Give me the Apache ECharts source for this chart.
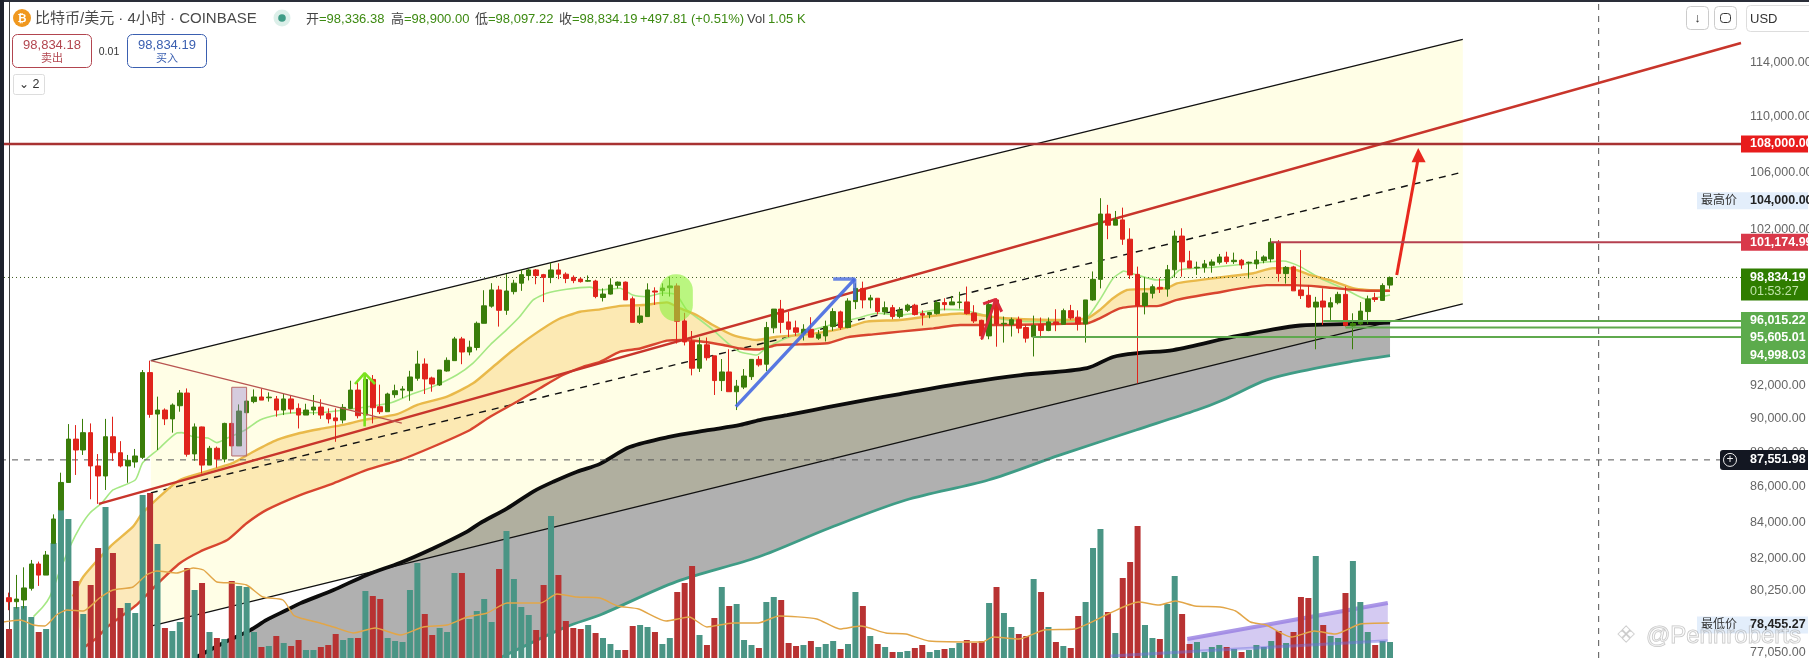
<!DOCTYPE html>
<html><head><meta charset="utf-8">
<style>html,body{margin:0;padding:0;background:#fff}#c{width:1809px;height:658px}</style>
<script src="https://cdn.jsdelivr.net/npm/echarts@6/dist/echarts.min.js"></script>
</head><body><div id="c"></div>
<script>
// ---------- data: [open, close, low, high], one row per 4h bar ----------
const candles = [
[79890,79680,79230,80160],[79680,79820,79320,81110],[79770,80410,79320,81520],[80390,81700,80270,81920],[81700,81100,80520,81830],
[81100,82190,81100,82410],[82830,84180,82830,84440],[84690,86250,84690,86810],[86250,88770,86250,89660],[88770,88130,86680,89600],
[88130,89150,87840,89970],[89150,87200,85290,89700],[87200,86620,85030,87890],[86620,88910,85820,89970],[88910,87970,87490,90100],
[87970,87200,87120,88650],[87200,87530,86230,87840],[87430,87780,87100,88190],[87700,92780,87600,92940],[92780,90240,90040,93520],
[90260,90500,88130,91310],[90500,89970,89600,90600],[89970,90800,89150,90900],[90760,91530,90400,91710],[91530,87880,87740,91810],
[87900,89490,87500,89700],[89490,87250,86770,89510],[87250,88230,87250,88370],[88230,87600,87100,88330],[87600,89700,87410,89740],
[89700,88370,88370,89740],[88370,90440,88370,90840],[90340,91040,90340,91100],[91010,91290,90910,91750],[91290,91100,91100,91810],
[91240,91280,91010,91570],[91170,90500,90100,91350],[90500,91170,90200,91470],[91170,90560,90300,91350],[90600,90200,89400,90900],
[90200,90500,90200,90880],[90500,90680,90200,91410],[90680,90200,89970,91150],[90280,89970,89700,90600],[90030,89860,88610,90600],
[89900,90660,89700,90860],[90600,91710,90560,92280],[91710,90160,90000,92280],[90200,92360,90000,92750],[92360,90640,89700,92630],
[90700,90400,90260,92040],[90400,91470,90400,91550],[91430,91670,91240,92040],[91710,91770,91220,91950],[91670,92510,91060,92890],
[92430,93310,92280,94140],[93310,92390,91470,93660],[92450,92080,91610,92530],[92020,92940,91960,92940],[92880,93540,92840,93720],
[93520,94880,93520,95010],[94880,94060,93300,95010],[94060,94360,93850,94770],[94340,95870,94160,95980],[95870,96990,95870,98000],
[96970,98020,96870,98460],[98020,96700,95660,98290],[96700,97950,96410,99050],[97910,98460,97730,98680],[98460,99020,97960,99370],
[98960,99330,98640,99440],[99330,98960,98390,99390],[99020,98840,97230,99070],[98840,99330,98460,99810],[99330,99050,98720,99770],
[99050,98770,98460,99170],[98840,98630,98460,98970],[98730,98560,98500,98840],[98590,98630,98550,98970],[98600,97590,97480,98680],
[97530,97750,97270,98120],[97750,98340,97720,98780],[98320,98530,98120,98570],[98530,97370,97370,98570],[97440,95930,95930,97590],
[95930,96340,95830,96900],[96300,98020,96300,98450],[97950,97880,97050,98190],[97970,98140,97630,98450],[98160,98280,97590,98890],
[98280,96000,94590,98450],[96020,94690,94470,96540],[94730,93050,92610,95380],[93050,94510,92820,94970],[94510,93700,93530,94970],
[93820,92290,91410,93820],[92290,92820,91650,93620],[92820,91610,91610,94230],[91610,91950,90500,92330],[91890,92570,91770,93000],
[92530,93600,92330,93620],[93600,93260,93150,93800],[93300,95600,92880,95960],[95580,96780,95240,96780],[96780,95930,95240,97370],
[95960,95490,94990,96620],[95580,95300,95070,96040],[95240,95490,94780,95810],[95490,94990,94990,96260],[94930,95180,94820,95450],
[95070,95660,94720,96040],[95660,96620,95390,96830],[96600,95600,95450,96680],[95600,97300,95560,97480],[97260,98120,96780,98450],
[98120,97370,96830,98560],[97370,97500,96830,97700],[97480,96620,96430,97480],[96600,96870,96430,97270],[96870,96300,96130,97050],
[96300,96700,96190,96900],[96700,97030,96600,97120],[97030,96430,96370,97120],[96490,96390,95730,96700],[96430,96560,96190,96600],
[96490,97200,96430,97370],[97200,97070,96700,97480],[97050,97240,97050,97630],[97200,97240,96810,97900],[97240,96490,96430,98240],
[96530,96020,95890,97030],[96060,95070,94820,96100],[95070,97070,94860,97370],[97370,95830,94390,97480],[95830,95870,94650,96300],
[95790,96100,95030,96240],[96100,95560,95240,96300],[95600,94930,94650,95770],[95010,95730,93780,96360],[95790,95410,94930,96240],
[95410,95960,95370,96240],[95960,95810,95370,96770],[95810,96680,95790,96810],[96680,96210,96100,97050],[96260,95830,95410,96700],
[95830,97370,94650,97370],[97370,98710,97320,99230],[98710,103090,98120,104180],[103090,102330,101380,103720],[102330,102710,102330,103300],
[102690,101380,101000,103530],[101380,99000,98740,102120],[99040,97000,92120,99550],[97010,97820,96440,98850],[97800,98230,97470,98380],
[98190,98080,97820,98780],[98080,99340,97580,99660],[99340,101590,98830,101960],[101590,99870,98890,102120],[99930,99460,99460,100600],
[99460,99510,99000,99880],[99500,99730,99150,99990],[99640,99860,99150,100030],[99840,100190,99700,100390],[100190,99880,99730,100540],
[99880,99970,99730,100480],[99970,99660,99400,100060],[99790,99840,98770,99880],[99730,99990,99400,100590],[99950,100190,99770,100300],
[100060,101170,99840,101450],[101170,99090,98560,101320],[99090,99500,98430,99590],[99530,97960,97960,99600],[98020,97650,97430,100650],
[97670,96910,96870,98320],[96910,97230,94230,97570],[97300,96910,95760,98120],[96910,97190,96000,97540],[97190,97730,97080,97900],
[97730,95740,95660,98250],[95700,95860,94230,96510],[95830,96650,95760,97230],[96620,97430,95830,97650],[97510,97400,97240,97840],
[97340,98310,97320,98450],[98336.38,98834.19,98097.22,98900]
];
const volumes = [
29,51,52,41,26,29,115,148,139,77,44,73,110,151,105,50,55,45,163,165,114,30,27,36,90,68,75,26,20,19,77,72,71,26,11,12,22,15,12,18,
8,8,11,13,24,18,20,20,67,62,59,20,17,16,68,95,44,23,30,26,85,85,39,47,59,36,89,127,79,51,43,28,73,142,83,37,30,29,33,25,
20,14,8,8,32,33,31,26,14,20,66,75,92,23,13,40,71,52,54,18,13,10,56,61,58,15,12,13,17,11,14,17,9,14,66,52,22,14,11,6,
6,7,10,13,6,8,9,10,15,18,15,17,55,71,45,31,24,22,79,66,31,16,12,10,42,56,110,129,46,25,80,96,132,33,20,19,54,82,44,14,
16,6,11,13,11,9,6,8,13,11,17,27,15,26,61,60,102,33,22,20,65,97,56,26,13,17,16
];
const volumeMA = [[-0.8,36],[1.5,38],[3.3,33],[4.8,32],[6.4,43],[7.8,48],[10,47],[12.2,60],[14,68],[16.7,71],[18.5,83],[19.9,87],[22.6,85],[24.8,90],[26.2,88],[28,76],[30.2,75],[32,73],[34.2,61],[36.9,58],[38.3,43],[39.2,40],[41.9,35],[43.7,31],[46.4,25],[49.3,30],[52.7,23],[55.8,31],[59,33],[61.7,41],[64.4,45],[67.1,55],[71.6,55],[73.8,64],[76.5,61],[79.6,60],[82,52],[84.8,49],[88.5,37],[91.6,41],[94,31],[97.5,35],[100.9,35],[103.7,42],[108.8,39],[111.9,29],[114.7,32],[118.1,25],[120.8,24],[123.9,17],[131.1,16],[132.5,21],[136,19],[139.4,28],[143.5,29],[148.3,45],[152.1,56],[154.9,53],[157.1,57],[159.7,52],[163.1,51],[165.2,47],[167.2,36],[169.3,33],[172.7,21],[175.8,27],[178.6,24],[182,34],[185.9,35]];
const maFast = [[3.3,78890],[4.6,79420],[5.5,79950],[6.9,81380],[8.2,82640],[9.6,83750],[10.9,84520],[12.5,85080],[14,85820],[17,86390],[18,87380],[20,88130],[22.6,89130],[23.3,89150],[24.8,88910],[26.8,88830],[28,88560],[29.4,88830],[31.8,89310],[33.8,89900],[36.1,90200],[38.2,90330],[41.9,90350],[51.3,90930],[54,91410],[57.1,91920],[60.3,92630],[62.5,93370],[64.8,94500],[67,95450],[68.8,96300],[70.6,97370],[72.4,97800],[75.1,98060],[78.2,98200],[79.6,98020],[82.3,98130],[84,97690],[85.9,97580],[88.1,97820],[89.9,97690],[91.3,96720],[93.1,96080],[94.8,95450],[97.1,94500],[98.4,94080],[100.7,93870],[102,94310],[104.7,94940],[107.4,95340],[110.6,95760],[114.2,96190],[116.9,96510],[120,96400],[125.8,96760],[128.5,96720],[130.8,96470],[133.5,96150],[137.9,95980],[142.4,95980],[145.1,96190],[146.9,97370],[148.7,98780],[149.9,99210],[150.1,99260],[151.9,99000],[154.6,98670],[156.4,98780],[157.7,99330],[162.2,99510],[167.6,99770],[171.6,99920],[173.9,99550],[176.6,98780],[180.1,98030],[182.8,97430],[186,97690]];
const maMid = [[8.6,79950],[10,81010],[13.6,82640],[16.7,83750],[18,84520],[21.3,85820],[23,86390],[25.7,86770],[30.2,87380],[32.9,88030],[36.1,88720],[39.2,89130],[41.9,89370],[45,89610],[47.7,89900],[52.3,90260],[55,90810],[59,91310],[62.5,92120],[65.2,93140],[67.9,94180],[70.6,95120],[73.8,96080],[76.9,96610],[79.6,96760],[82.3,96990],[85.4,97040],[88.6,97210],[90.4,96820],[92.6,96400],[94.8,95760],[97.5,95120],[100.7,94810],[103.4,95020],[106.5,95120],[110.1,95340],[112.9,95610],[115.5,95980],[120,96080],[124.5,96350],[128.1,96500],[130.8,96400],[133.5,96220],[136.6,96130],[141.1,96080],[145.2,96190],[146.9,96720],[148.7,97480],[150.6,98020],[151.9,98060],[155.9,98130],[157.3,98450],[162.2,98780],[167.6,99110],[170.2,99440],[172.5,99440],[175.2,99000],[178.3,98600],[181,98130],[182.9,98020],[186,97970]];
const maSlow = [[10,77260],[11.8,77780],[13.3,78370],[16.3,79240],[17.4,79590],[20.3,80750],[23,81740],[25.7,82370],[29.4,83015],[32,83940],[34.7,84690],[39.2,85530],[43.7,86200],[48.2,86970],[52.7,87550],[57.1,88320],[62.1,89310],[64.8,90100],[68.4,91000],[71.5,91820],[74.6,92630],[77.3,93140],[79.6,93450],[82.3,94080],[85,94280],[88.6,94770],[90.8,94810],[93.5,94700],[96.2,94500],[98.5,94280],[101.1,94220],[103.4,94500],[106.5,94540],[110.2,94610],[112.9,94980],[116.4,95170],[120,95340],[124.5,95550],[128.1,95760],[133.5,95760],[141.1,95830],[145.2,95870],[146.9,96190],[149.6,96820],[151.9,96970],[154.6,96970],[157.3,97370],[162.2,97800],[169.4,98330],[172.9,98330],[176.6,98230],[180.2,98060],[182.9,97970],[186,97970]];
const maBlack = [[25,76753],[29.2,77590],[32.5,78190],[34.7,78720],[37.4,79240],[39.2,79590],[43.7,80300],[48.2,81110],[52.7,81770],[57.1,82550],[61.7,83480],[63.4,83940],[67.1,84780],[70.6,85730],[73.3,86290],[76.5,86870],[79.6,87320],[83.6,88300],[88.9,88900],[94.4,89310],[98.5,89610],[101.1,89900],[104.8,90200],[108.3,90500],[111.9,90810],[115.5,91107],[120,91470],[129,92160],[136.3,92630],[145.2,93060],[148.7,93750],[152.3,94000],[156.8,94180],[164.9,95020],[169.4,95410],[173.9,95730],[180.6,95830],[186,95920]];
const maTeal = [[66.1,76753],[75.1,78370],[79.6,78980],[89.9,80750],[100.9,82080],[110.5,83680],[120.8,85250],[131.9,86390],[141.5,87830],[151.8,89310],[160,90500],[163.5,91107],[169.4,92330],[174.8,92940],[180.6,93450],[186,93830]];
const channelUpper = [[19.1,93520],[195.8,115780]];
const channelLower = [[19.1,78400],[195.8,97110]];
const channelMid = [[19.1,85650],[195.3,105940]];
const redTrend = [[12.1,85030],[233.27,115500]];
const fallLine = [[19.1,93520],[52.9,89720]];
const blueArrow = [[97.9,90710],[113.9,98730]];
const blueHead = [[111,98730],[113.9,98730],[113.9,97366]];
const greenArrow = [[47.9,89520],[47.9,92630]];
const greenHead = [[46.6,92080],[47.9,92750],[49.3,92080]];
const redSmallArrow = [[131,94860],[132.9,97410]];
const redSmallHead = [[131.2,97110],[132.9,97410],[133.7,96610]];
const redBigArrow = [[186.9,99000],[189.8,107000]];
const redBigHead = [[188.9,106700],[189.8,107710],[190.8,106700]];
const pinkBox = [[30,91880],[32,91880],[32,87780],[30,87780]];
const highlight = [87.6,92.1,96000,99050];
const purpleTop = [[158.7,77730],[185.7,79610]];
const purpleLow = [[148.3,76860],[185.7,77640]];
const purpleFill = [[158.7,77730],[185.7,79610],[185.7,77640],[158.7,77070]];
const resistance = 108000, redLevel = 101174.99, lastPrice = 98834.19, crossPrice = 87551.98;
const greenLevels = [[96015.22,177],[95605.01,180],[94998.03,137.9]];
const tickValues = [114000,110000,106000,102000,92000,90000,88000,86000,84000,82000,80250,77050];
const crossX = 214.1;

// ---------- axes ----------
const xMin = -1.212, xMax = 233.27, yMin = 76753, yMax = 118845;
const fmt = v => v.toLocaleString('en-US',{minimumFractionDigits:2,maximumFractionDigits:2});
const FONT = '"Liberation Sans","Noto Sans CJK SC",sans-serif';
const UP = '#3a7d0a', DOWN = '#e0241c', VUP = '#4a9585', VDOWN = '#b83232';

const line = (data,color,width,z,extra={}) => Object.assign({type:'line',data,symbol:'none',silent:true,animation:false,z,xAxisIndex:0,yAxisIndex:0,
  lineStyle:Object.assign({color,width},extra.ls||{})}, extra.s||{});
const poly = (points,fill,z,stroke,lw) => ({type:'custom',z,silent:true,animation:false,xAxisIndex:0,yAxisIndex:0,clip:true,data:[[points[0][0],points[0][1]]],
  renderItem:(p,api)=>({type:'polygon',shape:{points:points.map(q=>api.coord(q))},style:{fill,stroke:stroke||null,lineWidth:lw||0}})});
const band = (a,b) => a.concat(b.slice().reverse());
const hl = (v,x0,color,w,type) => line([[x0,v],[xMax,v]],color,w,type?6:10,{ls:type?{type}:{}});

const series = [
  poly(band(channelUpper,channelLower),'#fffee6',1),
  poly(band(maMid,maSlow),'rgba(250,222,155,0.68)',2),
  poly(band(maBlack,maTeal),'rgba(0,0,0,0.31)',3),
  line(channelUpper,'#111',1.3,4),
  line(channelLower,'#111',1.3,4),
  line(channelMid,'#111',1.4,4,{ls:{type:[7,6]}}),
  line(maFast,'#a5e884',1.6,4,{s:{smooth:0.2}}),
  line(maMid,'#e9b94a',2.4,4,{s:{smooth:0.2}}),
  line(maSlow,'#d8452f',2.4,4,{s:{smooth:0.2}}),
  line(maBlack,'#0c0c0c',3.8,4,{s:{smooth:0.3}}),
  line(maTeal,'#3f9c86',2.8,4,{s:{smooth:0.3}}),
  poly(purpleFill,'rgba(170,150,230,0.5)',4),
  line(purpleTop,'rgba(150,125,225,0.8)',4,4),
  {type:'bar',xAxisIndex:0,yAxisIndex:1,z:5,silent:true,animation:false,barWidth:6,
   data:volumes.map((h,i)=>({value:[i,h],itemStyle:{color:candles[i][1]>=candles[i][0]?VUP:VDOWN}}))},
  line(purpleLow,'rgba(110,110,225,0.45)',3,6),
  line(volumeMA,'#e2a648',1.4,7,{s:{yAxisIndex:1,smooth:0.2}}),
  line(redTrend,'#c8352b',2.5,7),
  {type:'candlestick',xAxisIndex:0,yAxisIndex:0,z:8,silent:true,animation:false,barWidth:5,
   data:candles.map((c,i)=>[i,c[0],c[1],c[2],c[3]]),
   itemStyle:{color:UP,color0:DOWN,borderColor:UP,borderColor0:DOWN,borderWidth:1}},
  line(fallLine,'#b85450',1.2,9),
  poly(pinkBox,'rgba(150,130,210,0.4)',9,'#b86a6a',1),
  {type:'custom',z:9,silent:true,animation:false,xAxisIndex:0,yAxisIndex:0,data:[[highlight[0],highlight[2]]],
   renderItem:(p,api)=>{const a=api.coord([highlight[0],highlight[3]]),b=api.coord([highlight[1],highlight[2]]);
     return {type:'rect',shape:{x:a[0],y:a[1],width:b[0]-a[0],height:b[1]-a[1],r:16},style:{fill:'rgba(140,240,60,0.6)'}};}},
  line(blueArrow,'rgba(70,105,225,0.9)',3.4,9),
  line(blueHead,'rgba(70,105,225,0.8)',3.4,9),
  line(greenArrow,'#7be21e',2.6,9),
  line(greenHead,'#7be21e',2.6,9),
  line(redSmallArrow,'#d92a3c',3,9),
  line(redSmallHead,'#d92a3c',3,9),
  line(redBigArrow,'#e8281e',3,9),
  poly(redBigHead,'#e8281e',9),
  hl(resistance,xMin,'#a83232',2.5),
  hl(redLevel,170,'#b5404f',2),
  ...greenLevels.map(g=>hl(g[0],g[1],'#5fa94e',2)),
  hl(lastPrice,xMin,'#3f5a20',1,[1,3]),
  hl(crossPrice,xMin,'#555',1,[6,6]),
  line([[crossX,yMin],[crossX,yMax]],'#555',1,6,{ls:{type:[6,6]}}),
  // right-hand price scale: tick labels placed through the value axis
  {type:'custom',z:12,silent:true,animation:false,clip:false,xAxisIndex:0,yAxisIndex:0,data:tickValues.map(v=>[xMax,v]),
   renderItem:(p,api)=>{const c=api.coord([xMax,api.value(1)]);
     return {type:'text',x:c[0]+9,y:c[1],style:{text:fmt(api.value(1)),fill:'#666',font:'12.5px '+FONT,textAlign:'left',textVerticalAlign:'middle'}};}},
];
const tags = [
  {v:108000,bg:'#e81c1c',fg:'#fff',txt:'108,000.00',dy:0,h:17},
  {v:101174.99,bg:'#d9394a',fg:'#fff',txt:'101,174.99',dy:0,h:17},
  {v:104000,bg:'#e3eefb',fg:'#222',txt:'104,000.00',dy:0,h:17,note:'最高价'},
  {v:78455.27,bg:'#e3eefb',fg:'#222',txt:'78,455.27',dy:0,h:17,note:'最低价'},
  {v:98834.19,bg:'#2f7d00',fg:'#fff',txt:'98,834.19',sub:'01:53:27',dy:7,h:32},
  {v:96015.22,bg:'#5cab4c',fg:'#fff',txt:'96,015.22',dy:0,h:18},
  {v:95605.01,bg:'#5cab4c',fg:'#fff',txt:'95,605.01',dy:10.5,h:18},
  {v:94998.03,bg:'#5cab4c',fg:'#fff',txt:'94,998.03',dy:18,h:18},
  {v:87551.98,bg:'#131722',fg:'#fff',txt:'87,551.98',dy:0,h:20,plus:true}
];
tags.forEach((t,k)=>series.push({type:'custom',z:13,silent:true,animation:false,clip:false,xAxisIndex:0,yAxisIndex:0,data:[[xMax,t.v]],
  renderItem:(p,api)=>{const c=api.coord([xMax,t.v]);const x=c[0],y=c[1]+t.dy;const kids=[];
    const rx=t.plus?x-21:x;
    kids.push({type:'rect',shape:{x:rx,y:y-t.h/2,width:1808-rx,height:t.h,r:t.plus?[3,0,0,3]:0},style:{fill:t.bg}});
    if(t.note){kids.push({type:'rect',shape:{x:x-44,y:y-t.h/2,width:44,height:t.h},style:{fill:t.bg}});
      kids.push({type:'text',x:x-22,y:y,style:{text:t.note,fill:'#333',font:'12px '+FONT,textAlign:'center',textVerticalAlign:'middle'}});}
    if(t.plus){kids.push({type:'circle',shape:{cx:x-11,cy:y,r:6.5},style:{fill:'none',stroke:'#eee',lineWidth:1}});
      kids.push({type:'text',x:x-11,y:y,style:{text:'+',fill:'#eee',font:'12px '+FONT,textAlign:'center',textVerticalAlign:'middle'}});}
    kids.push({type:'text',x:x+9,y:t.sub?y-6.5:y,style:{text:t.txt,fill:t.fg,font:'bold 12.5px '+FONT,textAlign:'left',textVerticalAlign:'middle'}});
    if(t.sub)kids.push({type:'text',x:x+9,y:y+7,style:{text:t.sub,fill:'#bfe3a8',font:'12.5px '+FONT,textAlign:'left',textVerticalAlign:'middle'}});
    return {type:'group',children:kids};}}));

// ---------- window furniture ----------
const T=(x,y,text,font,fill,align)=>({type:'text',z:30,x,y,style:{text,font:font+' '+FONT,fill,textAlign:align||'left',textVerticalAlign:'middle'}});
const R=(x,y,w,h,stroke,fill,r)=>({type:'rect',z:29,shape:{x,y,width:w,height:h,r:r||0},style:{stroke:stroke||null,fill:fill||'none',lineWidth:1}});
const G='#3d8a12';
const chrome = [
  R(0,0,1809,2,null,'#2a2e39'),R(0,0,4,658,null,'#1e222d'),
  {type:'circle',z:30,shape:{cx:22,cy:18,r:9},style:{fill:'#f0981f'}},
  T(22,18.5,'₿','bold 11px','#fff','center'),
  T(35,19,'比特币/美元 · 4小时 · COINBASE','15px','#4a4a4a'),
  {type:'circle',z:30,shape:{cx:282,cy:18,r:8.5},style:{fill:'#dcefe9'}},
  {type:'circle',z:30,shape:{cx:282,cy:18,r:3.8},style:{fill:'#3f9c86'}},
  T(306,19,'开','13px','#444'),T(319,19,'=98,336.38','13px',G),
  T(391,19,'高','13px','#444'),T(404,19,'=98,900.00','13px',G),
  T(475,19,'低','13px','#444'),T(488,19,'=98,097.22','13px',G),
  T(559,19,'收','13px','#444'),T(572,19,'=98,834.19','13px',G),
  T(640,19,'+497.81 (+0.51%)','13px',G),
  T(747,19,'Vol','13px','#444'),T(768,19,'1.05 K','13px',G),
  R(12.5,34.5,79,33,'#b2454f','#fff',5),T(52,45,'98,834.18','13px','#b2454f','center'),T(52,59,'卖出','11px','#b2454f','center'),
  T(109,52,'0.01','10.5px','#333','center'),
  R(127.5,34.5,79,33,'#3a5fb0','#fff',5),T(167,45,'98,834.19','13px','#3a5fb0','center'),T(167,59,'买入','11px','#3a5fb0','center'),
  R(13.5,74.5,31,20,'#ddd','#fff',2),T(24,85,'⌄','12px','#333','center'),T(36,85,'2','12.5px','#333','center'),
  R(1686.5,6.5,22,23,'#ccc','#fff',4),T(1697.5,18,'↓','13px','#333','center'),
  R(1714.5,6.5,22,23,'#ccc','#fff',4),R(1720.5,13.5,10,9,'#333','#fff',3),
  R(1746.5,5.5,70,26,'#ddd','#fff',4),T(1750,19,'USD','13px','#333'),
  {type:'text',z:40,x:1801,y:636,style:{text:'@Pennroberts',font:'24px '+FONT,fill:'rgba(255,255,255,0.35)',stroke:'rgba(110,110,110,0.4)',lineWidth:1,textAlign:'right',textVerticalAlign:'middle'}},
  {type:'text',z:40,x:1626,y:636,style:{text:'❖',font:'22px "DejaVu Sans"',fill:'rgba(255,255,255,0.35)',stroke:'rgba(110,110,110,0.4)',lineWidth:1,textAlign:'center',textVerticalAlign:'middle'}}
];

const chart = echarts.init(document.getElementById('c'),null,{renderer:'canvas'});
chart.setOption({
  animation:false,backgroundColor:'#fff',
  grid:{left:0,right:68,top:0,bottom:0,containLabel:false},
  xAxis:{type:'value',min:xMin,max:xMax,show:false},
  yAxis:[
    {type:'log',logBase:10,min:yMin,max:yMax,position:'right',axisLine:{show:true,lineStyle:{color:'#444'}},axisTick:{show:false},axisLabel:{show:false},splitLine:{show:false},minorTick:{show:false}},
    {type:'value',min:0,max:658,show:false,splitLine:{show:false}}
  ],
  tooltip:{show:false},legend:{show:false},
  series,
  graphic:{elements:chrome}
});
</script></body></html>
